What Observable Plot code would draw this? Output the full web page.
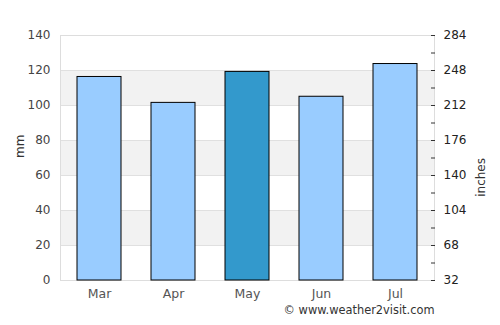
<!DOCTYPE html>
<html><head><meta charset="utf-8">
<script src="https://cdn.jsdelivr.net/npm/d3@7"></script>
<script src="https://cdn.jsdelivr.net/npm/@observablehq/plot@0.6"></script>
<style>body{margin:0;background:#fff;font-family:"DejaVu Sans",sans-serif}</style>
</head><body><div id="chart"></div>
<script>
const months = ["Mar","Apr","May","Jun","Jul"];
const rainfall = [116.3, 101.5, 119.2, 105, 123.7];
const highlight = ["May"];
const leftTicks = [0,20,40,60,80,100,120,140];
const rightTicks = [0,20,40,60,80,100,120,140];
const minorTicks = [10,30,50,70,90,110,130];
const bandRanges = [[20,40],[60,80],[100,120]];

const data = months.map((m,i)=>({month:m, value:rainfall[i]}));
const bands = bandRanges.map(([a,b])=>({y1:a,y2:b}));

const chart = Plot.plot({
  width: 500, height: 325,
  marginTop: 35, marginBottom: 45, marginLeft: 60, marginRight: 66,
  style: {fontFamily: "DejaVu Sans, sans-serif", fontSize: "12px", background: "#fff"},
  x: {domain: months, paddingInner: 0.4, paddingOuter: 0.2, label: null},
  y: {domain: [0,140], label: null},
  marks: [
    Plot.rect(bands, {y1:"y1", y2:"y2", fill:"#f2f2f2"}),
    Plot.gridY(leftTicks, {stroke:"#e0e0e0", strokeOpacity:1}),
    Plot.frame({stroke:"#dddddd"}),
    Plot.barY(data, {x:"month", y:"value", fill: d => highlight.includes(d.month) ? "#3399cc" : "#99ccff", stroke:"#000", strokeWidth:1}),
    Plot.axisY(leftTicks, {anchor:"left", tickSize:0, tickPadding:10, fill:"#444", fontSize:12, label:null}),
    Plot.axisY(rightTicks, {anchor:"right", tickSize:0, tickPadding:9, fill:"#222", fontSize:12, tickFormat: d => String(32 + 1.8*d), label:null}),
    Plot.axisY(rightTicks.concat(minorTicks), {anchor:"right", tickSize:-4, tickFormat: () => "", stroke:"#333", label:null}),
    Plot.axisX({tickSize:0, tickPadding:9, fill:"#555", fontSize:12.5, label:null}),
    Plot.text(["mm"], {frameAnchor:"left", dx:-40, rotate:-90, fill:"#333", fontSize:12}),
    Plot.text(["inches"], {frameAnchor:"right", dx:47, rotate:-90, fill:"#333", fontSize:12}),
    Plot.text(["© www.weather2visit.com"], {frameAnchor:"bottom-right", dy:33, textAnchor:"end", fill:"#333", fontSize:11.4})
  ]
});
document.getElementById("chart").appendChild(chart);
</script></body></html>
